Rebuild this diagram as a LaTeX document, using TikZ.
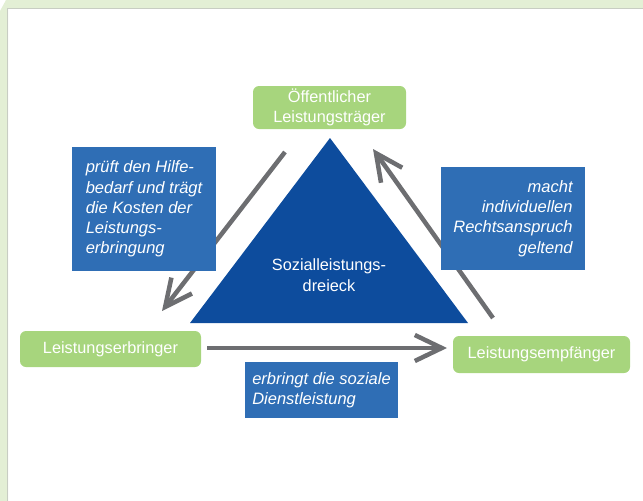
\documentclass[tikz,border=0pt]{standalone}
\usepackage{fontspec}
\setmainfont{Liberation Sans}
\usetikzlibrary{arrows.meta}

\definecolor{rahmengruen}{HTML}{E3EFD5}
\definecolor{rahmenlinie}{HTML}{C8CDC3}
\definecolor{boxgruen}{HTML}{A7D57D}
\definecolor{boxblau}{HTML}{2F6EB5}
\definecolor{dreieckblau}{HTML}{0D4C9D}
\definecolor{pfeilgrau}{HTML}{6D6E71}

\tikzset{
  akteur/.style={fill=boxgruen, text=white, rounded corners=6pt, inner sep=0pt,
    align=center, font=\fontsize{16.3}{19.5}\selectfont},
  aufgabe/.style={fill=boxblau, text=white, inner sep=0pt,
    font=\fontsize{16.5}{20.2}\selectfont\itshape},
  pfeil/.style={draw=pfeilgrau, line width=4.5pt,
    -{Straight Barb[length=27pt,width=26pt]}},
}

\begin{document}
\begin{tikzpicture}[x=1pt,y=-1pt]
        \useasboundingbox (0,0) rectangle (643,501);
        % frame
        \fill[rahmengruen] (0,11) -- (6,0) -- (643,0) -- (643,8) -- (8,8) -- (8,501) -- (0,501) -- cycle;
        \draw[rahmenlinie, line width=1pt] (643,8.5) -- (7.5,8.5) -- (7.5,501);
        % triangle
        \coordinate (spitze) at (330,138);
        \coordinate (linksunten) at (190,323);
        \coordinate (rechtsunten) at (468,323);
        \fill[dreieckblau] (spitze) -- (linksunten) -- (rechtsunten) -- cycle;
        \node[text=white, align=center, font=\fontsize{16.3}{20.5}\selectfont] (dreieck) at (329,275) {Sozialleistungs-\\dreieck};
        % arrow ends
        \coordinate (kostenstart) at (285,152);
        \coordinate (kostenziel) at (162,311);
        \coordinate (dienststart) at (207,348);
        \coordinate (dienstziel) at (447,348);
        \coordinate (anspruchstart) at (493,318);
        \coordinate (anspruchziel) at (373,149);
        % arrows
        \draw[pfeil] (kostenstart) -- (kostenziel);
        \draw[pfeil] (dienststart) -- (dienstziel);
        \draw[pfeil] (anspruchstart) -- (anspruchziel);
        % actors
        \node[akteur, minimum width=153pt, minimum height=43pt] (traeger) at (329.5,107.5) {Öffentlicher\\Leistungsträger};
        \node[akteur, minimum width=181pt, minimum height=36pt] (erbringer) at (110.5,349) {Leistungserbringer};
        \node[akteur, minimum width=177pt, minimum height=37pt] (empfaenger) at (541.5,354.5) {Leistungsempfänger};
        % tasks
        \node[aufgabe, align=left, minimum width=144pt, minimum height=124pt] (pruefen) at (144,209) {prüft den Hilfe-\\bedarf und trägt\\die Kosten der\\Leistungs-\\erbringung};
        \node[aufgabe, align=right, minimum width=144pt, minimum height=103pt] (anspruch) at (513,218.5) {macht\\individuellen\\Rechtsanspruch\\geltend};
        \node[aufgabe, align=left, minimum width=153pt, minimum height=56pt] (erbringen) at (321.5,390) {erbringt die soziale\\Dienstleistung};
\end{tikzpicture}
\end{document}
